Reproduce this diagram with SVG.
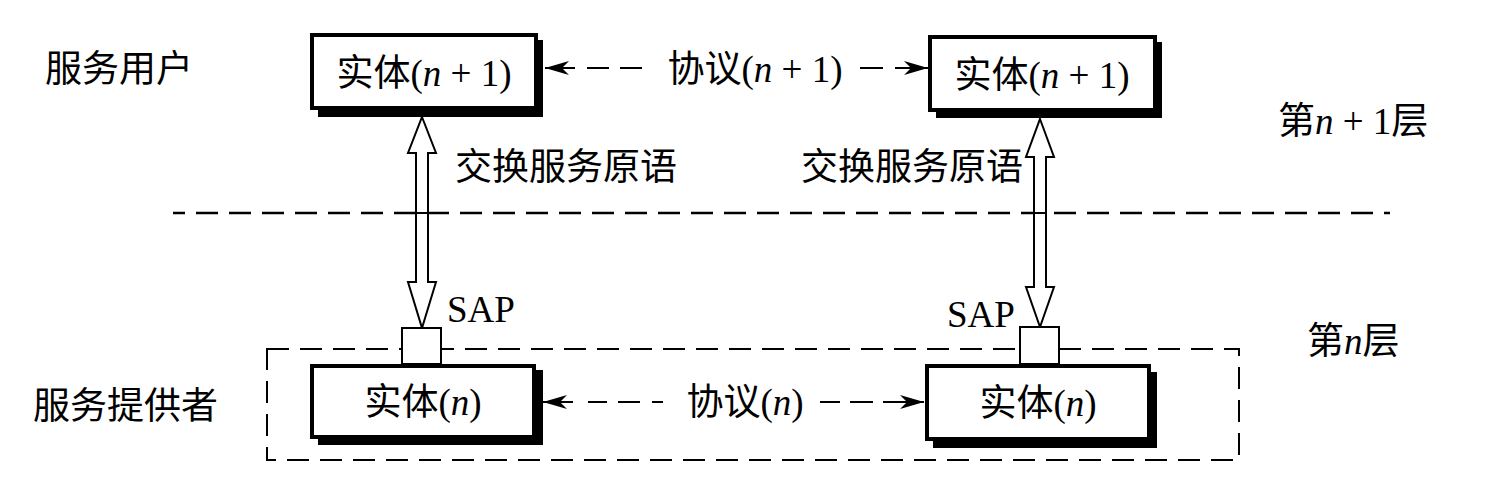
<svg xmlns="http://www.w3.org/2000/svg" width="1505" height="483" viewBox="0 0 1505 483">
<style>
text{font-family:"Liberation Serif","Noto Sans CJK SC",serif;font-size:37px;fill:#000}
.it{font-style:italic}
.box{fill:#fff;stroke:#000;stroke-width:4}
.shadow{fill:#000}
.sap{fill:#fff;stroke:#000;stroke-width:2}
.ln{fill:none;stroke:#000;stroke-width:2}
.dash{fill:none;stroke:#000;stroke-width:2.5;stroke-dasharray:22 11}
.dbl{fill:#fff;stroke:#000;stroke-width:2;stroke-linejoin:miter}
</style>
<defs>
<marker id="ah" viewBox="0 0 24 14" refX="24" refY="7" markerWidth="24" markerHeight="14" markerUnits="userSpaceOnUse" orient="auto">
<path d="M24,7 L0,0 L7,7 L0,14 Z" fill="#000"/>
</marker>
</defs>
<rect width="1505" height="483" fill="#fff"/>

<g id="labels">
<text x="45" y="82">服务用户</text>
<text x="33" y="419">服务提供者</text>
<text x="1278" y="134">第<tspan class="it">n</tspan> + 1层</text>
<text x="1307" y="354">第<tspan class="it">n</tspan>层</text>
<text x="455" y="180">交换服务原语</text>
<text x="801" y="180">交换服务原语</text>
</g>

<g id="layer-boundary">
<line class="dash" x1="173" y1="213" x2="1390" y2="213" stroke-dashoffset="10"/>
<rect x="267" y="349" width="972" height="111" class="ln" style="stroke-dasharray:22 11"/>
</g>

<g id="connectors">
<polygon class="dbl" points="422,117 436,153 428,153 428,282 436,282 422,328 408,282 416,282 416,153 408,153"/>
<polygon class="dbl" points="1040,119 1054,157 1046,157 1046,287 1054,287 1040,327 1026,287 1034,287 1034,157 1026,157"/>
<line class="ln" x1="416" y1="213" x2="428" y2="213" style="stroke-dasharray:none"/>
<line class="ln" x1="1034" y1="213" x2="1046" y2="213"/>
<path class="ln" d="M575,68 H545" marker-end="url(#ah)"/>
<path class="ln" d="M587,68 H609 M620,68 H642"/>
<path class="ln" d="M860,68 H883"/>
<path class="ln" d="M895,68 H928" marker-end="url(#ah)"/>
<text x="755" y="82" text-anchor="middle">协议(<tspan class="it">n</tspan> + 1)</text>
<path class="ln" d="M573,402 H543" marker-end="url(#ah)"/>
<path class="ln" d="M588,402 H607 M618,402 H640 M652,402 H663"/>
<path class="ln" d="M820,402 H840 M850,402 H873"/>
<path class="ln" d="M883,402 H924" marker-end="url(#ah)"/>
<text x="745" y="415" text-anchor="middle">协议(<tspan class="it">n</tspan>)</text>
</g>

<g id="entity-n1-left">
<rect class="shadow" x="318" y="40" width="225" height="77"/>
<rect class="box" x="312" y="35" width="224" height="73"/>
<text x="424" y="86" text-anchor="middle">实体(<tspan class="it">n</tspan> + 1)</text>
</g>

<g id="entity-n1-right">
<rect class="shadow" x="936" y="42" width="226" height="76"/>
<rect class="box" x="930" y="37" width="225" height="73"/>
<text x="1042" y="88" text-anchor="middle">实体(<tspan class="it">n</tspan> + 1)</text>
</g>

<g id="sap-left">
<rect class="sap" x="402" y="328" width="39" height="36"/>
<text x="447" y="322">SAP</text>
</g>

<g id="sap-right">
<rect class="sap" x="1020" y="327" width="39" height="37"/>
<text x="947" y="327">SAP</text>
</g>

<g id="entity-n-left">
<rect class="shadow" x="318" y="370" width="225" height="75"/>
<rect class="box" x="312" y="366" width="222" height="71"/>
<text x="423" y="415" text-anchor="middle">实体(<tspan class="it">n</tspan>)</text>
</g>

<g id="entity-n-right">
<rect class="shadow" x="933" y="372" width="224" height="76"/>
<rect class="box" x="927" y="366" width="222" height="73"/>
<text x="1038" y="416" text-anchor="middle">实体(<tspan class="it">n</tspan>)</text>
</g>
</svg>
